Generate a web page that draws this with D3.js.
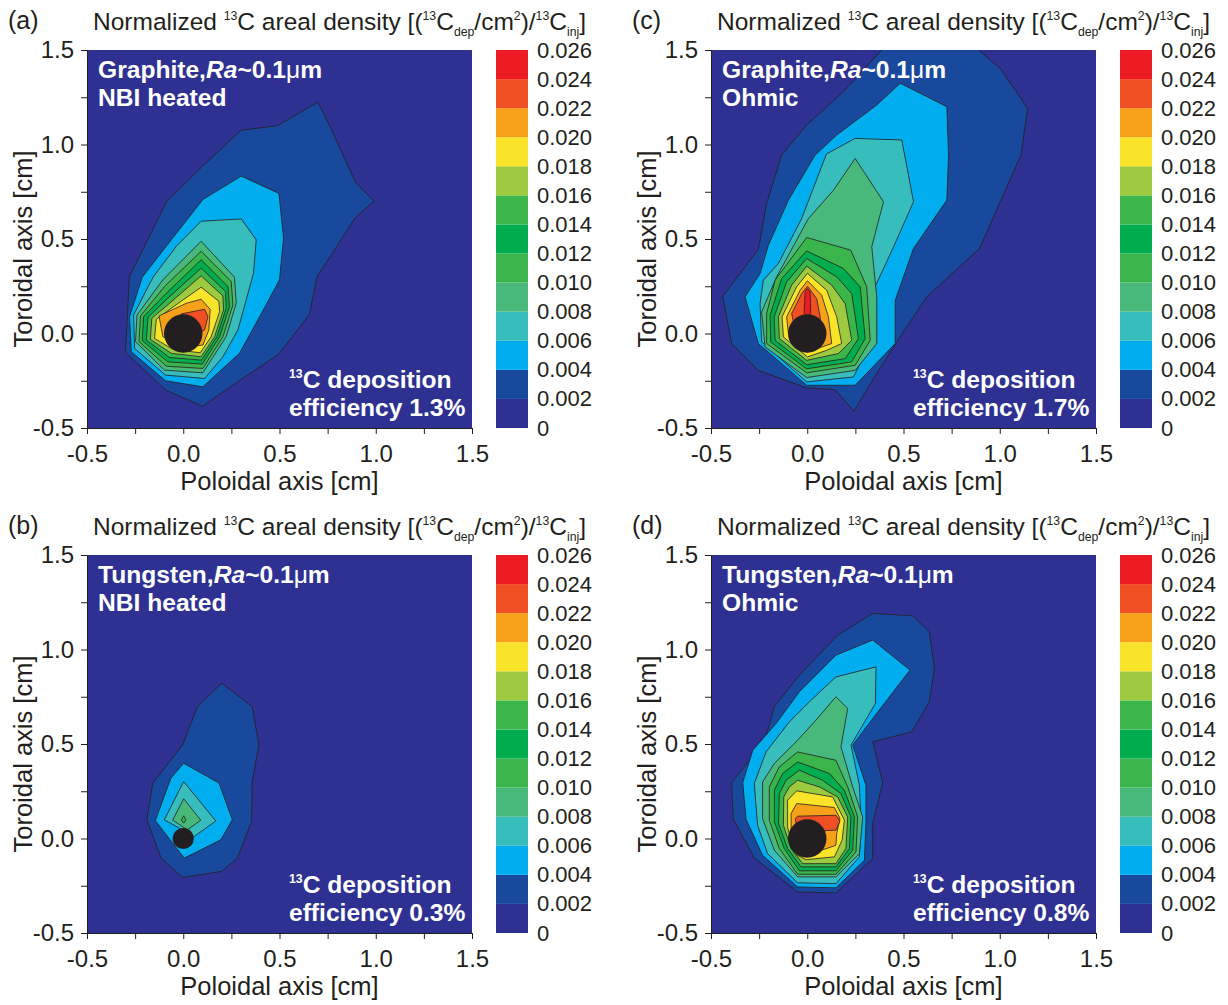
<!DOCTYPE html>
<html>
<head>
<meta charset="utf-8">
<script src="https://d3js.org/d3.v7.min.js"></script>
<style>
    body { margin: 0; background: #fff; }
    text { font-family: "Liberation Sans", Arial, sans-serif; fill: #231f20; }
</style>
</head>
<body>
<svg width="1228" height="1005"></svg>
<script>
    // contour levels and their fill colours (colour k fills values above levels[k])
    var levels = [0, 0.002, 0.004, 0.006, 0.008, 0.010, 0.012, 0.014, 0.016, 0.018, 0.020, 0.022, 0.024, 0.026];
    var levelLabels = ["0", "0.002", "0.004", "0.006", "0.008", "0.010", "0.012", "0.014", "0.016", "0.018", "0.020", "0.022", "0.024", "0.026"];
    var levelColors = ["#2e3192", "#19499d", "#00aeef", "#37bdbb", "#48b97b", "#3ab54b", "#00ad4e",
                       "#3cb54a", "#9dca3e", "#f9e42a", "#f7a11a", "#f04e23", "#ed1c24"];

    var majorTicks = [-0.5, 0, 0.5, 1.0, 1.5];
    var tickLabels = ["-0.5", "0.0", "0.5", "1.0", "1.5"];
    var minorTicks = [-0.25, 0.25, 0.75, 1.25];

    // contour outlines [poloidal, toroidal] in cm, one ring per level starting at 0.002
    var ringsA = [
        [[-0.30,-0.10],[-0.28,0.30],[-0.085,0.70],[0.10,0.885],[0.30,1.075],[0.49,1.10],[0.70,1.225],[0.76,1.10],[0.895,0.80],[0.99,0.70],[0.895,0.615],[0.695,0.30],[0.655,0.10],[0.495,-0.11],[0.29,-0.25],[0.10,-0.385],[-0.09,-0.30]],
        [[-0.279,0.089],[-0.213,0.298],[-0.062,0.496],[0.102,0.709],[0.301,0.833],[0.497,0.741],[0.521,0.505],[0.500,0.284],[0.405,0.104],[0.292,-0.105],[0.102,-0.282],[-0.092,-0.250],[-0.270,-0.096]],
        [[-0.258,0.098],[-0.157,0.298],[-0.036,0.461],[0.093,0.594],[0.301,0.606],[0.379,0.496],[0.365,0.319],[0.327,0.178],[0.284,0.019],[0.206,-0.123],[0.111,-0.238],[-0.092,-0.220],[-0.253,-0.079]],
        [[0.093,0.488],[0.266,0.298],[0.275,0.160],[0.223,-0.017],[0.102,-0.208],[-0.097,-0.194],[-0.248,-0.043],[-0.240,0.098],[-0.106,0.284]],
        [[0.093,0.435],[0.249,0.275],[0.258,0.151],[0.206,-0.017],[0.102,-0.185],[-0.088,-0.173],[-0.230,-0.043],[-0.222,0.093],[-0.097,0.249]],
        [[0.093,0.390],[0.232,0.249],[0.240,0.142],[0.189,-0.017],[0.099,-0.162],[-0.080,-0.150],[-0.213,-0.038],[-0.206,0.089],[-0.088,0.213]],
        [[0.093,0.346],[0.220,0.222],[0.223,0.134],[0.175,-0.017],[0.095,-0.141],[-0.071,-0.127],[-0.192,-0.035],[-0.183,0.086],[-0.080,0.187]],
        [[0.093,0.305],[0.206,0.199],[0.209,0.125],[0.163,-0.017],[0.093,-0.123],[-0.062,-0.105],[-0.171,-0.031],[-0.163,0.081],[-0.071,0.160]],
        [[0.093,0.245],[0.185,0.170],[0.189,0.116],[0.145,-0.017],[0.088,-0.102],[-0.054,-0.084],[-0.149,-0.026],[-0.140,0.075],[-0.062,0.134]],
        [[-0.126,0.093],[0.016,0.160],[0.093,0.181],[0.140,0.128],[0.133,0.019],[0.102,-0.061],[0.016,-0.070],[-0.106,-0.017]],
        [[-0.010,0.104],[0.111,0.128],[0.128,0.089],[0.111,0.019],[0.050,-0.017],[-0.019,0.019]]
    ];
    var ringsB = [
        [[0.200,0.821],[0.358,0.698],[0.393,0.495],[0.358,0.301],[0.355,0.090],[0.281,-0.104],[0.200,-0.174],[-0.003,-0.206],[-0.115,-0.104],[-0.189,0.099],[-0.158,0.293],[-0.003,0.495],[0.074,0.698]],
        [[0.002,0.398],[0.186,0.293],[0.255,0.099],[0.195,-0.007],[0.005,-0.104],[-0.145,0.095],[-0.064,0.319]],
        [[0.002,0.301],[0.169,0.093],[0.057,0.011],[-0.098,0.099]],
        [[0.002,0.210],[0.091,0.097],[0.022,0.046],[-0.055,0.097]],
        [[0.002,0.120],[0.014,0.099],[0.002,0.081],[-0.010,0.099]]
    ];
    var ringsC = [
        [[-0.439,0.197],[-0.254,0.444],[-0.211,0.688],[-0.133,0.944],[-0.003,1.103],[0.188,1.279],[0.477,1.60],[0.775,1.60],[1.002,1.403],[1.145,1.191],[1.110,0.944],[0.895,0.450],[0.621,0.194],[0.465,-0.044],[0.309,-0.297],[0.243,-0.410],[0.145,-0.297],[-0.003,-0.288],[-0.254,-0.195],[-0.393,-0.053]],
        [[-0.323,0.194],[-0.245,0.317],[-0.202,0.467],[-0.098,0.705],[0.041,0.944],[0.153,1.050],[0.361,1.209],[0.483,1.324],[0.725,1.200],[0.734,0.944],[0.725,0.706],[0.552,0.450],[0.457,0.176],[0.457,-0.053],[0.249,-0.274],[-0.003,-0.274],[-0.254,-0.053]],
        [[-0.245,0.159],[-0.228,0.282],[-0.150,0.370],[-0.029,0.608],[0.100,0.950],[0.249,1.032],[0.491,1.024],[0.552,0.697],[0.448,0.458],[0.344,0.229],[0.344,-0.018],[0.240,-0.230],[-0.003,-0.256],[-0.237,-0.044]],
        [[-0.237,0.114],[-0.159,0.300],[0.006,0.608],[0.136,0.758],[0.249,0.926],[0.396,0.697],[0.335,0.459],[0.361,0.194],[0.361,-0.053],[0.249,-0.195],[-0.003,-0.233],[-0.219,-0.071]],
        [[-0.211,0.105],[-0.167,0.282],[-0.003,0.508],[0.226,0.441],[0.309,0.247],[0.327,-0.036],[0.249,-0.168],[-0.003,-0.208],[-0.211,-0.053]],
        [[-0.193,0.097],[-0.133,0.291],[-0.003,0.437],[0.188,0.344],[0.275,0.247],[0.301,-0.027],[0.231,-0.150],[-0.003,-0.187],[-0.190,-0.045]],
        [[-0.172,0.088],[-0.107,0.273],[-0.003,0.397],[0.153,0.300],[0.231,0.211],[0.266,-0.027],[0.197,-0.133],[-0.003,-0.165],[-0.167,-0.036]],
        [[-0.150,0.088],[-0.081,0.256],[-0.003,0.356],[0.127,0.256],[0.197,0.158],[0.231,-0.036],[0.162,-0.106],[-0.003,-0.142],[-0.145,-0.027]],
        [[-0.131,0.088],[-0.055,0.247],[0.001,0.318],[0.101,0.229],[0.153,0.088],[0.179,-0.053],[0.101,-0.089],[0.001,-0.124],[-0.124,-0.018]],
        [[-0.107,0.088],[-0.037,0.229],[0.001,0.279],[0.075,0.203],[0.110,0.088],[0.127,-0.053],[0.001,-0.098],[-0.098,0.000]],
        [[-0.081,0.105],[-0.029,0.211],[0.001,0.250],[0.049,0.185],[0.067,0.088],[0.070,-0.018],[0.001,-0.053],[-0.063,0.018]],
        [[-0.016,0.109],[-0.011,0.220],[0.001,0.238],[0.015,0.220],[0.018,0.109],[0.001,0.088]]
    ];
    var ringsD = [
        [[-0.393,0.296],[-0.384,0.102],[-0.275,-0.103],[-0.050,-0.283],[0.149,-0.288],[0.340,-0.106],[0.340,0.079],[0.392,0.296],[0.340,0.512],[0.543,0.564],[0.634,0.723],[0.660,0.900],[0.634,1.094],[0.548,1.178],[0.340,1.191],[0.158,1.076],[-0.041,0.864],[-0.171,0.697],[-0.223,0.512]],
        [[-0.335,0.296],[-0.318,0.102],[-0.232,-0.089],[-0.050,-0.256],[0.149,-0.261],[0.297,-0.115],[0.305,0.088],[0.305,0.282],[0.236,0.494],[0.340,0.635],[0.534,0.891],[0.340,1.050],[0.149,0.970],[-0.041,0.776],[-0.162,0.608],[-0.283,0.467]],
        [[-0.275,0.291],[-0.258,0.070],[-0.206,-0.080],[-0.050,-0.234],[0.149,-0.239],[0.271,-0.097],[0.279,0.088],[0.271,0.282],[0.227,0.494],[0.354,0.714],[0.357,0.908],[0.149,0.855],[0.011,0.723],[-0.093,0.617],[-0.214,0.458]],
        [[-0.232,0.299],[-0.232,0.105],[-0.171,-0.062],[-0.050,-0.203],[0.149,-0.203],[0.271,-0.080],[0.288,0.114],[0.236,0.273],[0.175,0.485],[0.210,0.688],[0.149,0.750],[0.045,0.626],[-0.050,0.520],[-0.171,0.397]],
        [[-0.197,0.273],[-0.197,0.097],[-0.145,-0.053],[-0.050,-0.189],[0.149,-0.189],[0.253,-0.071],[0.262,0.114],[0.210,0.273],[0.149,0.414],[-0.050,0.458],[-0.145,0.379]],
        [[-0.171,0.255],[-0.171,0.088],[-0.119,-0.053],[-0.041,-0.171],[0.149,-0.171],[0.236,-0.062],[0.245,0.114],[0.193,0.255],[0.115,0.344],[-0.050,0.405],[-0.128,0.344]],
        [[-0.145,0.238],[-0.149,0.079],[-0.102,-0.053],[-0.032,-0.150],[0.149,-0.150],[0.219,-0.053],[0.227,0.114],[0.175,0.238],[0.080,0.308],[-0.041,0.361],[-0.110,0.308]],
        [[-0.122,0.220],[-0.124,0.070],[-0.084,-0.053],[-0.024,-0.133],[0.149,-0.133],[0.201,-0.053],[0.210,0.114],[0.158,0.220],[0.063,0.273],[-0.050,0.308],[-0.093,0.273]],
        [[-0.102,0.203],[-0.102,0.061],[-0.067,-0.080],[-0.006,-0.112],[0.141,-0.097],[0.181,-0.009],[0.193,0.097],[0.158,0.167],[0.132,0.220],[-0.055,0.252]],
        [[-0.084,0.132],[-0.055,0.185],[0.141,0.164],[0.170,0.106],[0.153,0.026],[0.149,-0.036],[0.063,-0.066],[-0.041,-0.059],[-0.084,0.026]],
        [[-0.062,0.105],[-0.050,0.118],[0.149,0.123],[0.170,0.093],[0.149,0.044],[0.045,0.040],[-0.050,0.026]]
    ];

    var panelRings = [ringsA, ringsB, ringsC, ringsD];
    var panelLetters = ["(a)", "(b)", "(c)", "(d)"];
    var materials = ["Graphite", "Tungsten", "Graphite", "Tungsten"];
    var dischargeModes = ["NBI heated", "NBI heated", "Ohmic", "Ohmic"];
    var efficiencies = ["1.3%", "0.3%", "1.7%", "0.8%"];
    var sourceRadius = [0.1, 0.055, 0.1, 0.1];   // black injection point, cm

    var panelLeft = [87, 87, 711, 711],
        panelTop = [50, 555, 50, 555],
        pw = 385,
        ph = 378;

    var svg = d3.select("svg");
    var ink = "#231f20";

    // text with super/subscripts: parts = [[text, kind], ...]
    function addRich(sel, parts, size) {
        var shift = 0;
        parts.forEach(function(p) {
            var target = p[1] == "sup" ? -0.42 * size : (p[1] == "sub" ? 0.25 * size : 0);
            var t = sel.append("tspan").attr("dy", target - shift).text(p[0]);
            if (p[1] == "sup" || p[1] == "sub") t.attr("font-size", 0.5 * size);
            if (p[1] == "it") t.attr("font-style", "italic");
            if (p[1] == "plain") t.attr("font-weight", "normal");
            shift = target;
        });
    }

    function drawPanel(i) {
        var left = panelLeft[i], top = panelTop[i];
        var x = d3.scaleLinear().domain([-0.5, 1.5]).range([left, left + pw]);
        var y = d3.scaleLinear().domain([-0.5, 1.5]).range([top + ph, top]);

        svg.append("clipPath").attr("id", "clip" + i)
           .append("rect")
           .attr("x", left).attr("y", top).attr("width", pw).attr("height", ph);

        var g = svg.append("g").attr("clip-path", "url(#clip" + i + ")");
        g.append("rect")
         .attr("x", left).attr("y", top).attr("width", pw).attr("height", ph)
         .attr("fill", levelColors[0]);

        var line = d3.line()
            .x(function(d) { return x(d[0]); })
            .y(function(d) { return y(d[1]); })
            .curve(d3.curveLinearClosed);

        g.selectAll(".ring")
         .data(panelRings[i])
         .enter().append("path")
         .attr("class", "ring")
         .attr("d", line)
         .attr("fill", function(d, k) { return levelColors[k + 1]; })
         .attr("stroke", ink)
         .attr("stroke-width", 0.8)
         .attr("stroke-linejoin", "round");

        g.append("circle")
         .attr("cx", x(0)).attr("cy", y(0))
         .attr("r", x(sourceRadius[i]) - x(0))
         .attr("fill", ink);

        var allTicks = majorTicks.concat(minorTicks);
        var fmt = function(d) {
            var k = majorTicks.indexOf(d);
            return k >= 0 ? tickLabels[k] : "";
        };

        var xa = svg.append("g")
            .attr("transform", "translate(0," + (top + ph) + ")")
            .call(d3.axisBottom(x).tickValues(allTicks).tickFormat(fmt)
                  .tickSize(6).tickSizeOuter(0).tickPadding(11));
        var ya = svg.append("g")
            .attr("transform", "translate(" + left + ",0)")
            .call(d3.axisLeft(y).tickValues(allTicks).tickFormat(fmt)
                  .tickSize(6).tickSizeOuter(0).tickPadding(7));
        [xa, ya].forEach(function(a) {
            a.selectAll("path, line").attr("stroke", ink);
            a.selectAll("text").attr("font-size", "24px").attr("fill", ink)
             .attr("font-family", "Liberation Sans, Arial, sans-serif");
        });

        svg.append("text")
           .attr("x", left + pw / 2).attr("y", top + ph + 62)
           .attr("text-anchor", "middle").attr("font-size", "25.5px")
           .text("Poloidal axis [cm]");
        svg.append("text")
           .attr("transform", "translate(" + (left - 55) + "," + (top + ph / 2 + 10) + ") rotate(-90)")
           .attr("text-anchor", "middle").attr("font-size", "25.5px")
           .text("Toroidal axis [cm]");

        // panel letter and title
        svg.append("text")
           .attr("x", left - 79).attr("y", top - 21)
           .attr("font-family", "Liberation Serif, Times New Roman, serif")
           .attr("font-size", "25px")
           .text(panelLetters[i]);
        var title = svg.append("text")
           .attr("x", left + 6).attr("y", top - 20)
           .attr("font-size", "24.5px");
        addRich(title, [["Normalized ", "n"], ["13", "sup"], ["C areal density [(", "n"], ["13", "sup"],
                        ["C", "n"], ["dep", "sub"], ["/cm", "n"], ["2", "sup"], [")/", "n"], ["13", "sup"],
                        ["C", "n"], ["inj", "sub"], ["]", "n"]], 24.5);

        // labels inside the plot
        var fs = 24.6;
        var lab = svg.append("g").attr("font-weight", "bold").attr("font-size", fs + "px");
        var t1 = lab.append("text").attr("x", left + 11).attr("y", top + 28).style("fill", "#fff");
        addRich(t1, [[materials[i] + ",", "n"], ["Ra", "it"], ["~0.1", "n"], ["\u03bc", "plain"], ["m", "n"]], fs);
        lab.append("text").attr("x", left + 11).attr("y", top + 56).style("fill", "#fff")
           .text(dischargeModes[i]);
        var t3 = lab.append("text").attr("x", left + 202).attr("y", top + 338).style("fill", "#fff");
        addRich(t3, [["13", "sup"], ["C deposition", "n"]], fs);
        lab.append("text").attr("x", left + 202).attr("y", top + 366).style("fill", "#fff")
           .text("efficiency " + efficiencies[i]);

        // colour bar
        var cbLeft = left + 409;
        var cy = d3.scaleLinear().domain([0, 0.026]).range([top + ph, top]);
        svg.append("g").selectAll("rect")
           .data(levelColors)
           .enter().append("rect")
           .attr("x", cbLeft).attr("width", 32)
           .attr("y", function(d, k) { return cy(levels[k + 1]); })
           .attr("height", function(d, k) { return cy(levels[k]) - cy(levels[k + 1]); })
           .attr("fill", function(d) { return d; });
        var cb = svg.append("g")
            .attr("transform", "translate(" + (cbLeft + 32) + ",0)")
            .call(d3.axisRight(cy).tickValues(levels)
                  .tickFormat(function(d, k) { return levelLabels[k]; })
                  .tickSize(0).tickPadding(9));
        cb.select(".domain").remove();
        cb.selectAll("text").attr("font-size", "22px").attr("fill", ink)
          .attr("font-family", "Liberation Sans, Arial, sans-serif");
    }

    for (var i = 0; i < 4; i++) drawPanel(i);
</script>
</body>
</html>
